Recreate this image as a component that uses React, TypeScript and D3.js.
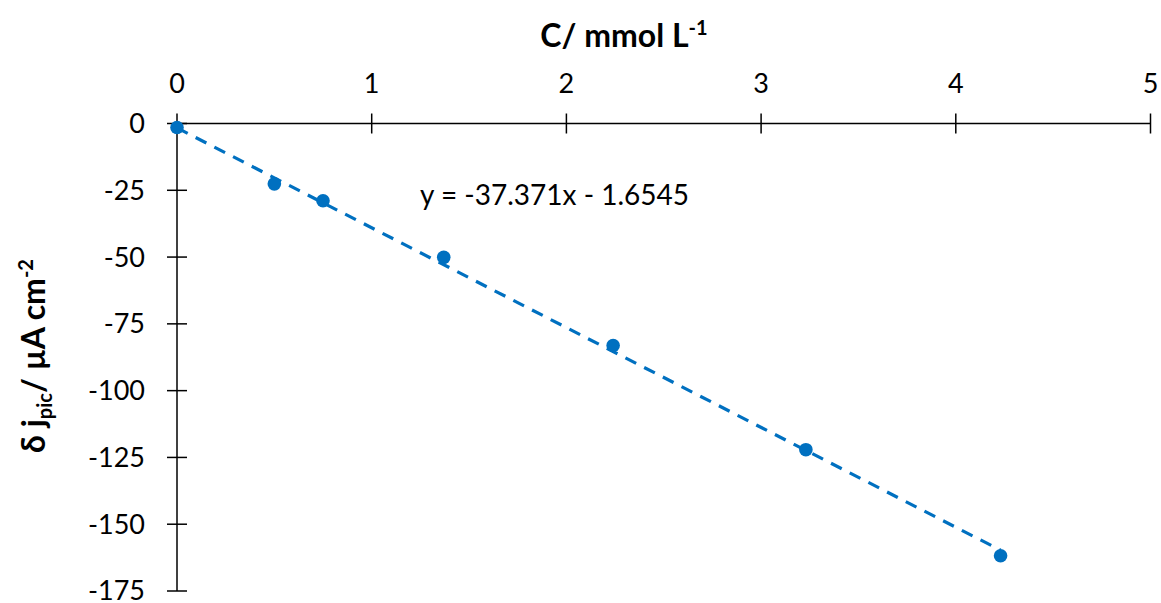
import React from "react";
import * as d3 from "d3";

const concentrations = [0, 0.5, 0.75, 1.37, 2.24, 3.23, 4.23];
const deltaJ = [-1.5, -22.6, -28.9, -50.1, -83.1, -122.1, -161.8];
const xTicks = [0, 1, 2, 3, 4, 5];
const yTicks = [0, -25, -50, -75, -100, -125, -150, -175];
const slope = -37.371;
const intercept = -1.6545;
const equationLabel = "y = -37.371x - 1.6545";

const W = 1161;
const H = 603;
const FONT = "Lato, 'Open Sans', sans-serif";
const BLUE = "#0070C0";

export default function App() {
  const x = d3.scaleLinear().domain([0, 5]).range([177, 1150.5]);
  const y = d3.scaleLinear().domain([0, -175]).range([123.5, 591]);
  const fitX = [0, d3.max(concentrations) as number];
  const line = d3
    .line<number>()
    .x((d) => x(d))
    .y((d) => y(slope * d + intercept));

  return (
    <svg
      width={W}
      height={H}
      style={{ position: "absolute", left: 0, top: 0, background: "#fff" }}
      fontFamily={FONT}
    >
      <path
        d={line(fitX) || ""}
        fill="none"
        stroke={BLUE}
        strokeWidth={3.2}
        strokeDasharray="12 9"
      />
      <line x1={x(0)} x2={x(5)} y1={y(0)} y2={y(0)} stroke="#000" strokeWidth={1.5} />
      <line x1={x(0)} x2={x(0)} y1={y(0)} y2={y(-175)} stroke="#000" strokeWidth={1.5} />
      {xTicks.map((t) => (
        <g key={"x" + t}>
          <line x1={x(t)} x2={x(t)} y1={y(0) - 10} y2={y(0) + 10} stroke="#000" strokeWidth={1.5} />
          <text x={x(t)} y={93} textAnchor="middle" fontSize={27} fill="#000">
            {t}
          </text>
        </g>
      ))}
      {yTicks.map((t) => (
        <g key={"y" + t}>
          <line x1={x(0) - 10} x2={x(0) + 10} y1={y(t)} y2={y(t)} stroke="#000" strokeWidth={1.5} />
          <text x={145} y={y(t)} dy="0.35em" textAnchor="end" fontSize={27} fill="#000">
            {t}
          </text>
        </g>
      ))}
      {concentrations.map((c, i) => (
        <circle key={i} cx={x(c)} cy={y(deltaJ[i])} r={6.8} fill={BLUE} />
      ))}
      <text x={420} y={205} fontSize={28} fill="#000">
        {equationLabel}
      </text>
      <text x={624} y={47} textAnchor="middle" fontSize={32} fontWeight="bold" fill="#000">
        C/ mmol L<tspan dy={-12} fontSize={20}>-1</tspan>
      </text>
      <text
        transform="translate(45,356) rotate(-90)"
        textAnchor="middle"
        fontSize={32}
        fontWeight="bold"
        fill="#000"
      >
        δ j<tspan dy={7} fontSize={20}>pic</tspan>
        <tspan dy={-7}>/ µA cm</tspan>
        <tspan dy={-12} fontSize={20}>-2</tspan>
      </text>
    </svg>
  );
}
